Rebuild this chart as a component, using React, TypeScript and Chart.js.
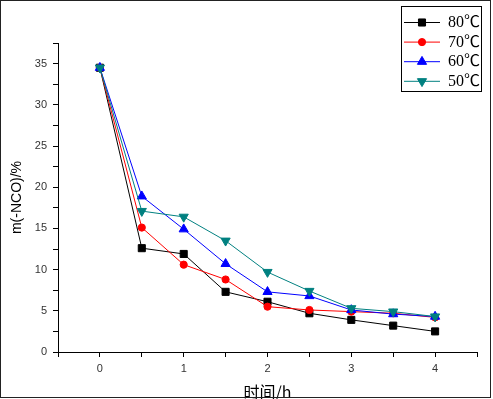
import React, { useEffect, useRef } from "react";
import { Chart, registerables } from "chart.js";
import { drawPoint } from "chart.js/helpers";

Chart.register(...registerables);

const times = [0, 0.5, 1, 1.5, 2, 2.5, 3, 3.5, 4];
const seriesNames = ["80℃", "70℃", "60℃", "50℃"];
const s80 = [34.5, 12.6, 11.9, 7.3, 6.1, 4.7, 3.9, 3.2, 2.5];
const s70 = [34.5, 15.1, 10.6, 8.8, 5.5, 5.1, 4.9, 4.7, 4.2];
const s60 = [34.5, 18.9, 14.9, 10.7, 7.3, 6.8, 5.1, 4.6, 4.3];
const s50 = [34.5, 17.1, 16.4, 13.5, 9.7, 7.4, 5.3, 4.9, 4.3];
const yLabelsShown = [0, 5, 10, 15, 20, 25, 30, 35];
const xLabelsShown = [0, 1, 2, 3, 4];

const colors = ["#000000", "#ff0000", "#0000ff", "#008080"];
const styles: any[] = ["rect", "circle", "triangle", "triangle"];
const radii = [5, 3.6, 5.3, 5.3];
const rotations = [0, 0, 0, 180];

const legendPlugin = {
  id: "customLegend",
  afterDraw(chart: any) {
    const ctx = chart.ctx;
    ctx.save();
    ctx.strokeStyle = "#222";
    ctx.lineWidth = 1;
    ctx.strokeRect(0.5, 0.5, 490, 397);
    const bx = 401, by = 6, bw = 80, bh = 85;
    ctx.fillStyle = "#fff";
    ctx.fillRect(bx, by, bw, bh);
    ctx.strokeStyle = "#000";
    ctx.strokeRect(bx + 0.5, by + 0.5, bw, bh);
    chart.data.datasets.forEach((ds: any, i: number) => {
      const cy = 22 + i * 19.6;
      ctx.strokeStyle = ds.borderColor;
      ctx.lineWidth = 1;
      ctx.beginPath();
      ctx.moveTo(404, cy + 0.5);
      ctx.lineTo(440, cy + 0.5);
      ctx.stroke();
      ctx.fillStyle = ds.pointBackgroundColor;
      ctx.strokeStyle = ds.pointBorderColor;
      drawPoint(ctx, {
        pointStyle: ds.pointStyle,
        radius: ds.pointRadius,
        rotation: ds.pointRotation,
        borderWidth: 1,
      } as any, 422, cy + 0.5);
      ctx.fillStyle = "#000";
      ctx.font = "16px 'Liberation Serif', 'Noto Sans CJK SC', serif";
      ctx.textBaseline = "middle";
      ctx.textAlign = "left";
      ctx.fillText(ds.label, 448, cy + 1);
    });
    ctx.restore();
  },
};

export default function App() {
  const ref = useRef<HTMLCanvasElement | null>(null);
  useEffect(() => {
    if (!ref.current) return;
    const all = [s80, s70, s60, s50];
    const chart = new Chart(ref.current, {
      type: "line",
      data: {
        datasets: all.map((vals, i) => ({
          label: seriesNames[i],
          data: times.map((t, j) => ({ x: t, y: vals[j] })),
          borderColor: colors[i],
          backgroundColor: colors[i],
          pointBackgroundColor: colors[i],
          pointBorderColor: colors[i],
          pointStyle: styles[i],
          pointRadius: radii[i],
          pointRotation: rotations[i],
          borderWidth: 1,
          pointBorderWidth: 1,
          tension: 0,
          fill: false,
          order: 3 - i,
        })),
      },
      options: {
        responsive: false,
        animation: false,
        layout: { padding: { left: 0, right: 16, top: 43, bottom: 0 } },
        plugins: { legend: { display: false }, tooltip: { enabled: false } },
        scales: {
          x: {
            type: "linear",
            min: -0.5,
            max: 4.5,
            afterFit: (s: any) => { s.height = 47; },
            ticks: {
              stepSize: 0.5,
              autoSkip: false,
              maxRotation: 0,
              padding: 5,
              color: "#333",
              font: { family: "'Liberation Sans', Arial, sans-serif", size: 11 },
              callback: (v: any) => (xLabelsShown.includes(Number(v)) ? String(v) : ""),
            },
            grid: { drawOnChartArea: false, drawTicks: true, tickLength: 5, color: "#000" },
            border: { display: true, color: "#000", width: 1 },
            title: {
              display: true,
              text: "时间/h",
              color: "#000",
              font: { family: "'Noto Sans CJK SC', sans-serif", size: 16, lineHeight: 1 },
              padding: { top: 0, bottom: -1 },
            },
          },
          y: {
            type: "linear",
            min: 0,
            max: 37.5,
            afterFit: (s: any) => { s.width = 58; },
            ticks: {
              stepSize: 2.5,
              autoSkip: false,
              padding: 6,
              color: "#333",
              font: { family: "'Liberation Sans', Arial, sans-serif", size: 11 },
              callback: (v: any) => (yLabelsShown.includes(Number(v)) ? String(v) : ""),
            },
            grid: { drawOnChartArea: false, drawTicks: true, tickLength: 5, color: "#000" },
            border: { display: true, color: "#000", width: 1 },
            title: {
              display: true,
              text: "m(-NCO)/%",
              color: "#000",
              font: { family: "'Liberation Sans', Arial, sans-serif", size: 14, lineHeight: 1 },
              padding: { top: 10, bottom: 0 },
            },
          },
        },
      },
      plugins: [legendPlugin],
    });
    return () => chart.destroy();
  }, []);
  return (
    <div style={{ position: "fixed", left: 0, top: 0, width: 493, height: 399, background: "#fff" }}>
      <canvas ref={ref} width={493} height={399} style={{ display: "block" }} />
    </div>
  );
}
